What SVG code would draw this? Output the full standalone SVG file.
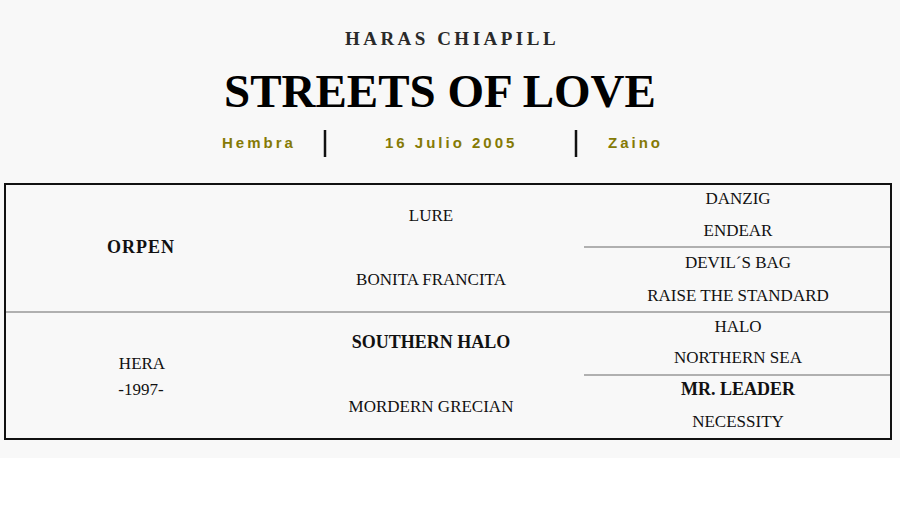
<svg xmlns="http://www.w3.org/2000/svg" width="900" height="506" viewBox="0 0 900 506">
<style>
.t{font-family:"Liberation Serif","DejaVu Serif",serif;font-size:17px;fill:#111;text-anchor:middle}
.b{font-weight:bold;font-size:18px}
.sub{font-family:"Liberation Sans","DejaVu Sans",sans-serif;font-size:15px;font-weight:bold;fill:#857a05;letter-spacing:3px}
.rule{stroke:#999;stroke-width:1.5}
.bar{stroke:#111;stroke-width:2.5}
</style>
<rect x="0" y="0" width="900" height="458" fill="#f8f8f8"/>
<rect x="0" y="458" width="900" height="48" fill="#ffffff"/>
<g id="header">
<text x="452" y="45" font-family="Liberation Serif, serif" font-size="19" font-weight="bold" fill="#2a2a2a" letter-spacing="3.5" text-anchor="middle">HARAS CHIAPILL</text>
<text x="440" y="107" font-family="Liberation Serif, serif" font-size="47" font-weight="bold" fill="#000" text-anchor="middle">STREETS OF LOVE</text>
<text class="sub" x="222" y="148">Hembra</text>
<text class="sub" x="385" y="148">16 Julio 2005</text>
<text class="sub" x="608" y="148">Zaino</text>
<line class="bar" x1="325" y1="130" x2="325" y2="157"/>
<line class="bar" x1="576" y1="130" x2="576" y2="157"/>
</g>
<g id="connectors">
<rect x="5" y="184" width="886" height="255" fill="none" stroke="#111" stroke-width="2"/>
<line class="rule" x1="6" y1="312" x2="890" y2="312"/>
<line class="rule" x1="584" y1="247" x2="890" y2="247"/>
<line class="rule" x1="584" y1="375" x2="890" y2="375"/>
</g>
<g id="orpen"><text class="t b" x="141" y="253" letter-spacing="1">ORPEN</text></g>
<g id="hera"><text class="t" x="142" y="369">HERA</text><text class="t" x="141" y="395">-1997-</text></g>
<g id="lure"><text class="t" x="431" y="221">LURE</text></g>
<g id="bonita-francita"><text class="t" x="431" y="285">BONITA FRANCITA</text></g>
<g id="southern-halo"><text class="t b" x="431" y="348">SOUTHERN HALO</text></g>
<g id="mordern-grecian"><text class="t" x="431" y="412">MORDERN GRECIAN</text></g>
<g id="danzig"><text class="t" x="738" y="204">DANZIG</text></g>
<g id="endear"><text class="t" x="738" y="236">ENDEAR</text></g>
<g id="devils-bag"><text class="t" x="738" y="268">DEVIL´S BAG</text></g>
<g id="raise-the-standard"><text class="t" x="738" y="301">RAISE THE STANDARD</text></g>
<g id="halo"><text class="t" x="738" y="332">HALO</text></g>
<g id="northern-sea"><text class="t" x="738" y="363">NORTHERN SEA</text></g>
<g id="mr-leader"><text class="t b" x="738" y="395">MR. LEADER</text></g>
<g id="necessity"><text class="t" x="738" y="427">NECESSITY</text></g>
</svg>
